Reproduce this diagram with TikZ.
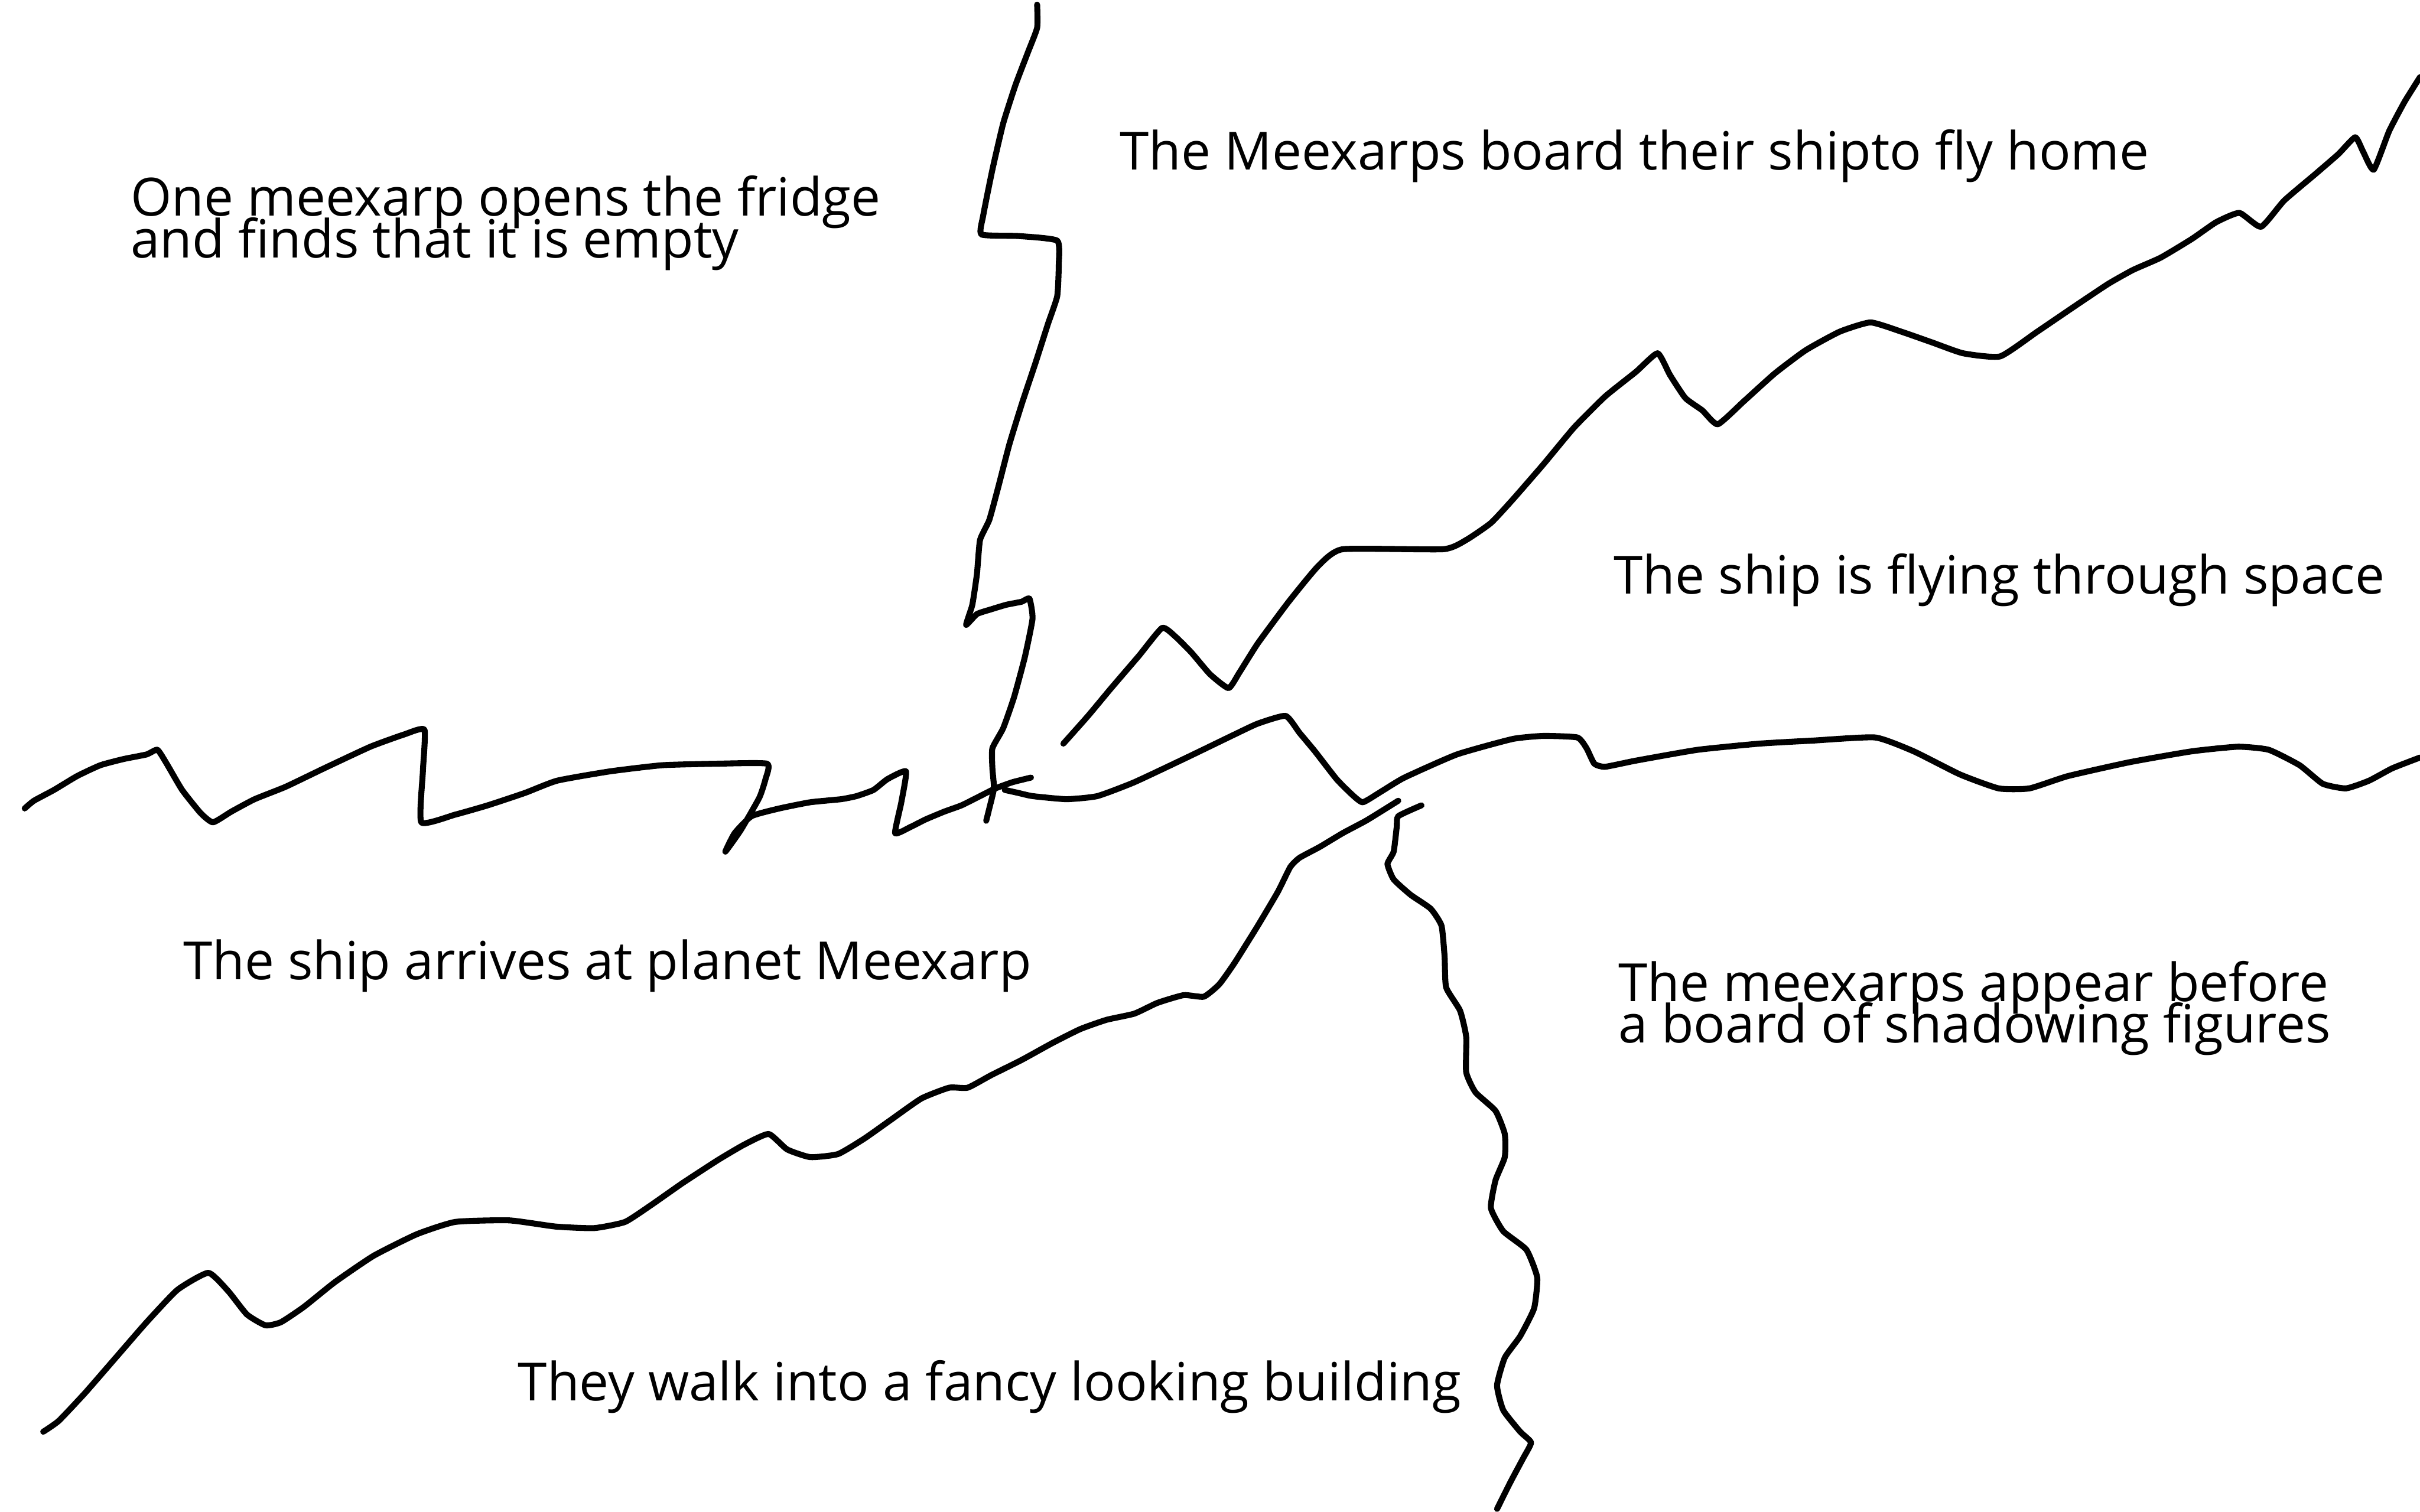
\documentclass[tikz,border=0pt]{standalone}
\usepackage{fontspec}
\setmainfont{Open Sans}
\newcommand\tightlines{\lineskiplimit=-20pt\relax}
\begin{document}
\begin{tikzpicture}[x=0.01cm, y=-0.01cm,
		pen/.style={line width=1.1pt, line cap=round, line join=round},
		caption/.style={anchor=base west, inner sep=0pt, align=left, font={\fontsize{9.7}{7.7}\selectfont\tightlines}}]
		\useasboundingbox (0,0) rectangle (1568,980);

		% --- panel texts (two-line ones sit on their last line) ---
		\node[caption] (fridge) at (84,167) {One meexarp opens the fridge\\and finds that it is empty};
		\node[caption] (board) at (725,110) {The Meexarps board their shipto fly home};
		\node[caption] (space) at (1045,385) {The ship is flying through space};
		\node[caption] (arrive) at (118,635) {The ship arrives at planet Meexarp};
		\node[caption] (figures) at (1048,676) {The meexarps appear before\\a board of shadowing figures};
		\node[caption] (walk) at (335,908) {They walk into a fancy looking building};

		% --- upper divider (top edge down to the crossing) ---
		\draw[pen] plot[smooth, tension=0.3] coordinates {(672,3) (672,18) (666,34) (658,55) (650,80) (643,110) (637,140) (636,152) (660,153) (685,156) (686,172) (685,192) (679,210) (671,235) (662,262) (654,288) (647,315) (641,337) (635,350) (633,372) (630,392) (626,405) (633,398) (642,395) (652,392) (662,390) (667,388) (669,401) (664,426) (657,452) (650,472) (643,485) (643,498) (644,511) (641,524) (639,532)};

		% --- left zigzag ---
		\draw[pen] plot[smooth, tension=0.3] coordinates {(16,524) (22,519) (35,512) (50,503) (65,496) (80,492) (95,489) (102,486) (108,495) (118,512) (130,527) (138,533) (150,526) (165,518) (185,510) (210,498) (240,484) (262,476) (275,473) (274,500) (273,533) (295,528) (316,522) (340,514) (361,506) (395,500) (429,496) (465,495) (497,495) (496,505) (492,517) (480,538) (470,552) (476,540) (487,529) (505,524) (525,520) (545,518) (555,516) (566,512) (575,505) (587,500) (584,520) (580,540) (590,536) (600,531) (612,526) (623,522) (635,516) (645,511) (656,507) (668,504)};

		% --- middle line to the right edge ---
		\draw[pen] plot[smooth, tension=0.3] coordinates {(651,512) (660,514) (669,516) (691,518) (711,516) (735,507) (769,491) (800,476) (815,469) (833,464) (842,475) (852,487) (866,505) (876,515) (883,520) (895,513) (910,504) (944,489) (980,479) (1000,477) (1022,478) (1028,485) (1033,495) (1040,497) (1060,493) (1100,486) (1140,482) (1175,480) (1215,478) (1240,487) (1270,502) (1295,511) (1315,511) (1340,503) (1380,494) (1420,487) (1450,484) (1470,486) (1490,496) (1505,508) (1520,511) (1535,506) (1550,498) (1568,491)};

		% --- upper right rising line ---
		\draw[pen] plot[smooth, tension=0.3] coordinates {(689,482) (705,464) (720,446) (738,425) (753,407) (762,413) (772,423) (784,437) (796,446) (803,436) (815,417) (835,390) (854,367) (870,356) (935,356) (950,350) (966,339) (980,324) (1000,301) (1020,277) (1040,257) (1060,241) (1074,229) (1082,243) (1092,258) (1103,266) (1113,275) (1130,260) (1150,242) (1170,227) (1192,215) (1212,209) (1232,215) (1252,222) (1272,229) (1296,231) (1320,215) (1345,198) (1366,184) (1382,175) (1400,167) (1420,155) (1436,144) (1451,138) (1465,147) (1480,130) (1500,113) (1515,100) (1526,89) (1531,98) (1538,110) (1548,85) (1558,66) (1568,50)};

		% --- lower left rising line ---
		\draw[pen] plot[smooth, tension=0.3] coordinates {(28,928) (38,921) (55,903) (75,880) (95,857) (115,836) (135,825) (148,837) (160,852) (172,859) (182,857) (197,847) (217,831) (242,814) (270,800) (295,792) (330,791) (360,795) (385,796) (405,792) (422,781) (442,767) (465,752) (482,742) (498,735) (510,745) (525,750) (543,748) (560,738) (577,726) (597,712) (615,705) (627,705) (642,697) (662,687) (682,676) (700,667) (717,661) (735,657) (750,650) (767,645) (780,646) (790,638) (800,624) (815,600) (828,578) (836,562) (842,556) (855,549) (870,540) (885,532) (898,524) (906,519)};

		% --- lower divider (crossing down to bottom edge) ---
		\draw[pen] plot[smooth, tension=0.3] coordinates {(921,522) (906,529) (905,536) (903,552) (899,560) (903,570) (914,580) (927,589) (934,600) (936,620) (937,640) (946,655) (950,672) (950,695) (956,708) (969,720) (975,735) (975,750) (969,765) (966,783) (974,798) (989,810) (996,828) (994,848) (985,866) (975,880) (970,898) (974,914) (985,928) (992,935) (987,945) (979,960) (970,978)};
	\end{tikzpicture}
\end{document}
